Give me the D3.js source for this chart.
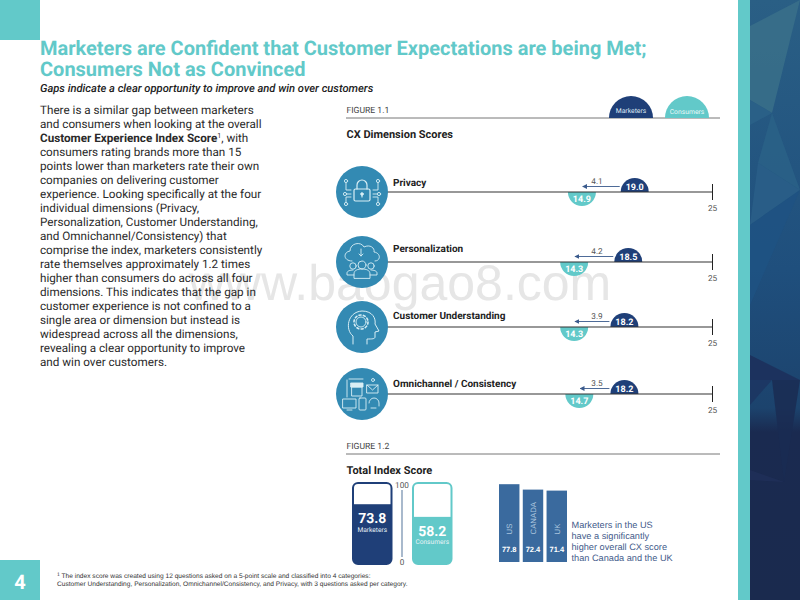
<!DOCTYPE html>
<html>
<head>
<meta charset="utf-8">
<script src="https://cdn.jsdelivr.net/npm/d3@7"></script>
<style>
  body { margin: 0; background: #fff; }
  svg { display: block; font-family: Roboto, sans-serif; text-rendering: geometricPrecision; }
  .arial { font-family: "Liberation Sans", sans-serif; }
</style>
</head>
<body>
<div id="chart"></div>
<script>
// figure 1.1
var dimensions = ['Privacy', 'Personalization', 'Customer Understanding', 'Omnichannel / Consistency'];
var marketers = [19.0, 18.5, 18.2, 18.2];
var consumers = [14.9, 14.3, 14.3, 14.7];
var gaps = [4.1, 4.2, 3.9, 3.5];
var rowY = [192, 262, 327, 394];
var rowLabelOffset = [-6, -10, -8, -7];

// figure 1.2
var totalNames = ['Marketers', 'Consumers'];
var totalScores = [73.8, 58.2];
var countries = ['US', 'CANADA', 'UK'];
var countryScores = [77.8, 72.4, 71.4];

var titleLines = ['Marketers are Confident that Customer Expectations are being Met;', 'Consumers Not as Convinced'];
var subtitle = 'Gaps indicate a clear opportunity to improve and win over customers';
var bodyLines = [
  'There is a similar gap between marketers',
  'and consumers when looking at the overall',
  '<b>Customer Experience Index Score</b>|, with',
  'consumers rating brands more than 15',
  'points lower than marketers rate their own',
  'companies on delivering customer',
  'experience. Looking specifically at the four',
  'individual dimensions (Privacy,',
  'Personalization, Customer Understanding,',
  'and Omnichannel/Consistency) that',
  'comprise the index, marketers consistently',
  'rate themselves approximately 1.2 times',
  'higher than consumers do across all four',
  'dimensions. This indicates that the gap in',
  'customer experience is not confined to a',
  'single area or dimension but instead is',
  'widespread across all the dimensions,',
  'revealing a clear opportunity to improve',
  'and win over customers.'
];
var noteLines = ['Marketers in the US', 'have a significantly', 'higher overall CX score', 'than Canada and the UK'];

var navy = '#1f3f78', teal = '#62c9c9', blue = '#338ab3', ink = '#222';

var svg = d3.select('#chart').append('svg').attr('width', 800).attr('height', 600);

// page furniture
svg.append('rect').attr('width', 40).attr('height', 40).attr('fill', teal);
svg.append('rect').attr('y', 560).attr('width', 40).attr('height', 40).attr('fill', teal);
svg.append('text').attr('x', 20).attr('y', 589).attr('text-anchor', 'middle')
  .attr('font-size', 20).attr('font-weight', 700).attr('fill', '#fff').text('4');

// side panel
var defs = svg.append('defs');
var grad = defs.append('linearGradient').attr('id', 'panel').attr('x1', 0).attr('x2', 0).attr('y1', 0).attr('y2', 1);
grad.append('stop').attr('offset', '0').attr('stop-color', '#2a5f85');
grad.append('stop').attr('offset', '0.45').attr('stop-color', '#1f4f7d');
grad.append('stop').attr('offset', '0.68').attr('stop-color', '#1c436d');
grad.append('stop').attr('offset', '0.72').attr('stop-color', '#1a2a50');
grad.append('stop').attr('offset', '1').attr('stop-color', '#1a2a4e');
svg.append('rect').attr('x', 738).attr('width', 12).attr('height', 600).attr('fill', teal);
svg.append('rect').attr('x', 750).attr('width', 50).attr('height', 600).attr('fill', 'url(#panel)');
var facets = [
  ['750,26 800,0 772,113 750,100', '#3a7089'],
  ['750,100 772,113 750,125', '#2b6288'],
  ['772,113 800,190 758,163', '#2a6187'],
  ['758,163 800,190 750,225', '#2a5f88'],
  ['800,190 750,305 750,225', '#1f5283'],
  ['750,355 800,380 750,380', '#1c2f5a'],
  ['750,380 772,380 750,405', '#1c3561'],
  ['772,380 800,380 784,482', '#1a2b52'],
  ['750,470 784,482 750,480', '#202f58']
];
svg.append('g').selectAll('polygon').data(facets).enter().append('polygon')
  .attr('points', function(d) { return d[0]; }).attr('fill', function(d) { return d[1]; }).attr('opacity', 0.85);

// watermark
svg.append('text').attr('x', 400).attr('y', 300).attr('text-anchor', 'middle')
  .attr('font-size', 50).attr('fill', '#e6e6e6').attr('class', 'arial').text('www.baogao8.com');

// title and body
svg.append('g').selectAll('text').data(titleLines).enter().append('text')
  .attr('x', 40).attr('y', function(d, i) { return 55 + i * 21; })
  .attr('font-size', 20).attr('font-weight', 700).attr('fill', teal).text(function(d) { return d; });
svg.append('text').attr('x', 40).attr('y', 92).attr('font-size', 11.2).attr('font-weight', 500)
  .attr('font-style', 'italic').attr('fill', ink).text(subtitle);

var body = svg.append('g').attr('font-size', 11.7).attr('fill', '#2a2a2a');
bodyLines.forEach(function(line, i) {
  var t = body.append('text').attr('x', 40).attr('y', 114 + i * 14);
  if (line.indexOf('<b>') === 0) {
    var parts = line.replace('<b>', '').split('</b>|');
    t.append('tspan').attr('font-weight', 700).text(parts[0]);
    t.append('tspan').attr('font-size', 7).attr('dy', -4).text('1');
    t.append('tspan').attr('dy', 4).text(parts[1]);
  } else {
    t.text(line);
  }
});

// footnote
var foot = svg.append('g').attr('class', 'arial').attr('font-size', 6.62).attr('fill', '#333');
var f1 = foot.append('text').attr('x', 57).attr('y', 578);
f1.append('tspan').attr('font-size', 5).attr('dy', -2).text('1');
f1.append('tspan').attr('dy', 2).text(' The index score was created using 12 questions asked on a 5-point scale and classified into 4 categories:');
foot.append('text').attr('x', 57).attr('y', 586).text('Customer Understanding, Personalization, Omnichannel/Consistency, and Privacy, with 3 questions asked per category.');

// figure headers
function figureHeader(label, y, title) {
  svg.append('line').attr('x1', 346).attr('x2', 720).attr('y1', y).attr('y2', y)
    .attr('stroke', '#777').attr('stroke-width', 1);
  svg.append('text').attr('x', 346.5).attr('y', y - 5).attr('font-size', 8.6).attr('fill', '#444').text(label);
  svg.append('text').attr('x', 346.5).attr('y', y + 20).attr('font-size', 11).attr('font-weight', 700).attr('fill', ink).text(title);
}
figureHeader('FIGURE 1.1', 118, 'CX Dimension Scores');
figureHeader('FIGURE 1.2', 454, 'Total Index Score');

// half circles
var halfUp = function(r) { return d3.arc()({ innerRadius: 0, outerRadius: r, startAngle: -Math.PI / 2, endAngle: Math.PI / 2 }); };
var halfDown = function(r) { return d3.arc()({ innerRadius: 0, outerRadius: r, startAngle: Math.PI / 2, endAngle: Math.PI * 1.5 }); };

// legend
var legendX = d3.scaleOrdinal().domain(totalNames).range([631, 687]);
var legendColor = d3.scaleOrdinal().domain(totalNames).range([navy, teal]);
totalNames.forEach(function(name) {
  svg.append('path').attr('transform', 'translate(' + legendX(name) + ',118)').attr('d', halfUp(22)).attr('fill', legendColor(name));
  svg.append('text').attr('x', legendX(name)).attr('y', name === 'Marketers' ? 113 : 114).attr('text-anchor', 'middle')
    .attr('font-size', 6.8).attr('fill', name === 'Marketers' ? '#dde6f2' : '#e8f8f8').text(name);
});

// figure 1.1 rows
var x = d3.scaleLinear().domain([0, 25]).range([390, 712]);

defs.append('marker').attr('id', 'head').attr('viewBox', '0 0 6 6').attr('refX', 5).attr('refY', 3)
  .attr('markerWidth', 5).attr('markerHeight', 5).attr('markerUnits', 'userSpaceOnUse').attr('orient', 'auto')
  .append('path').attr('d', 'M0,0L6,3L0,6Z').attr('fill', '#3a5a8c');

var rows = svg.selectAll('g.row').data(dimensions).enter().append('g').attr('class', 'row')
  .attr('transform', function(d, i) { return 'translate(0,' + rowY[i] + ')'; });

rows.append('path').attr('transform', function(d, i) { return 'translate(' + x(marketers[i]) + ',0)'; })
  .attr('d', halfUp(14)).attr('fill', navy);
rows.append('path').attr('transform', function(d, i) { return 'translate(' + x(consumers[i]) + ',0)'; })
  .attr('d', halfDown(14)).attr('fill', teal);
rows.append('line').attr('x1', 386).attr('x2', x(25)).attr('stroke', '#333').attr('stroke-width', 1.2);

rows.append('text').attr('x', function(d, i) { return x(marketers[i]); }).attr('y', -2).attr('text-anchor', 'middle')
  .attr('font-size', 9).attr('font-weight', 700).attr('fill', '#fff').text(function(d, i) { return marketers[i].toFixed(1); });
rows.append('text').attr('x', function(d, i) { return x(consumers[i]); }).attr('y', 10).attr('text-anchor', 'middle')
  .attr('font-size', 9).attr('font-weight', 700).attr('fill', '#fff').text(function(d, i) { return consumers[i].toFixed(1); });

rows.append('line').attr('y1', -5.5).attr('y2', -5.5)
  .attr('x1', function(d, i) { return x(marketers[i]) - 15; })
  .attr('x2', function(d, i) { return x(consumers[i]) + 1; })
  .attr('stroke', '#3a5a8c').attr('stroke-width', 0.9).attr('marker-end', 'url(#head)');
rows.append('text').attr('x', 597).attr('y', -8).attr('text-anchor', 'middle')
  .attr('font-size', 8.2).attr('fill', '#555').text(function(d, i) { return gaps[i].toFixed(1); });

rows.append('text').attr('x', 393).attr('y', function(d, i) { return rowLabelOffset[i]; })
  .attr('font-size', 10).attr('font-weight', 700).attr('fill', ink).text(function(d) { return d; });

rows.append('g').call(d3.axisBottom(x).tickValues([25]).tickSize(8))
  .call(function(g) {
    g.select('.domain').remove();
    g.selectAll('.tick line').attr('y1', -8).attr('y2', 8).attr('stroke', '#222');
    g.selectAll('.tick text').attr('y', 13).attr('font-family', 'Roboto').attr('font-size', 8.2).attr('fill', '#555');
  });

// icon circles
rows.append('circle').attr('cx', 362).attr('r', 26).attr('fill', blue);

var iconStroke = function(g) { return g.attr('fill', 'none').attr('stroke', '#d8eef5').attr('stroke-width', 0.9).attr('stroke-linecap', 'round').attr('stroke-linejoin', 'round'); };
var icons = rows.append('g').attr('transform', 'translate(362,0)').call(iconStroke);

// lock
var lock = d3.select(icons.nodes()[0]);
lock.append('rect').attr('x', -8).attr('y', -3).attr('width', 16).attr('height', 12).attr('rx', 1.5).attr('stroke-width', 1.2);
lock.append('path').attr('d', 'M-5,-3V-7a5,5 0 0 1 10,0V-3').attr('stroke-width', 1.2);
lock.append('circle').attr('cy', 2).attr('r', 1.3).attr('fill', '#d8eef5');
lock.append('path').attr('d', 'M0,2V5').attr('stroke-width', 1.2);
lock.append('path').attr('d', 'M-11,-2H-16V-9 M-11,2H-15 M-11,5H-16V10 M11,-2H16V-9 M11,2H15 M11,5H16V10');
[[-16, -11], [-17, 2], [-16, 12], [16, -11], [17, 2], [16, 12]].forEach(function(p) {
  lock.append('circle').attr('cx', p[0]).attr('cy', p[1]).attr('r', 1.6);
});

// cloud and people
var cloud = d3.select(icons.nodes()[1]);
cloud.append('path').attr('d', 'M-10,-1C-19,-1 -19,-10 -12,-11C-12,-19 -1,-21 2,-15C8,-18 13,-14 12,-10C19,-9 19,-1 13,-1');
cloud.append('path').attr('d', 'M-1,-13V-6 M-3,-8L-1,-6L1,-8');
cloud.append('circle').attr('cy', 3).attr('r', 4);
cloud.append('path').attr('d', 'M-8,16V12C-8,8 -4,7 0,7C4,7 8,8 8,12V16Z');
cloud.append('circle').attr('cx', -9).attr('cy', 4).attr('r', 3.2);
cloud.append('circle').attr('cx', 9).attr('cy', 4).attr('r', 3.2);
cloud.append('path').attr('d', 'M-8,13H-15V11C-15,9 -12,8 -9,8 M8,13H15V11C15,9 12,8 9,8');

// head with gear
var head = d3.select(icons.nodes()[2]);
head.append('path').attr('d', 'M-9,17V9C-17,3 -15,-15 0,-16C11,-16 14,-8 13,-3L17,4L13,5V10C13,12 10,12 5,12V17').attr('stroke-width', 1);
head.append('circle').attr('cx', -1).attr('cy', -5).attr('r', 5);
head.append('circle').attr('cx', -1).attr('cy', -5).attr('r', 7).attr('stroke-dasharray', '2 2.4').attr('stroke-width', 1.6);

// store and devices
var omni = d3.select(icons.nodes()[3]);
omni.append('path').attr('d', 'M-13,-15H1 M-15,-14V3');
omni.append('rect').attr('x', -11).attr('y', -11).attr('width', 12).attr('height', 4).attr('fill', '#d8eef5');
omni.append('rect').attr('x', -10).attr('y', -7).attr('width', 10).attr('height', 9);
omni.append('rect').attr('x', 5).attr('y', -9).attr('width', 11).attr('height', 8);
omni.append('path').attr('d', 'M5,-9L10.5,-4L16,-9');
omni.append('circle').attr('cx', 11).attr('cy', -14).attr('r', 1.5);
omni.append('rect').attr('x', -19).attr('y', 5).attr('width', 13).attr('height', 9);
omni.append('path').attr('d', 'M-15,16H-10');
omni.append('rect').attr('x', -3).attr('y', 4).attr('width', 7).attr('height', 12).attr('rx', 1);
omni.append('path').attr('d', 'M7,9A5,5 0 0 1 17,9V12 M9,14H14');

// figure 1.2 total score pills
var yTotal = d3.scaleLinear().domain([0, 100]).range([564, 483]);
var pillX = d3.scaleOrdinal().domain(totalNames).range([353, 413]);
var pillW = 38.5;

defs.selectAll('clipPath').data(totalNames).enter().append('clipPath').attr('id', function(d, i) { return 'pill' + i; })
  .append('rect').attr('x', function(d) { return pillX(d); }).attr('y', yTotal(100)).attr('width', pillW)
  .attr('height', yTotal(0) - yTotal(100)).attr('rx', 5);

var pills = svg.selectAll('g.pill').data(totalNames).enter().append('g').attr('class', 'pill');
pills.append('rect').attr('x', function(d) { return pillX(d); }).attr('y', function(d, i) { return yTotal(totalScores[i]); })
  .attr('width', pillW).attr('height', function(d, i) { return yTotal(0) - yTotal(totalScores[i]); })
  .attr('fill', function(d) { return legendColor(d); }).attr('clip-path', function(d, i) { return 'url(#pill' + i + ')'; });
pills.append('rect').attr('x', function(d) { return pillX(d); }).attr('y', yTotal(100)).attr('width', pillW)
  .attr('height', yTotal(0) - yTotal(100)).attr('rx', 5).attr('fill', 'none')
  .attr('stroke', function(d) { return legendColor(d); }).attr('stroke-width', 2);
pills.append('text').attr('x', function(d) { return pillX(d) + pillW / 2; })
  .attr('y', function(d, i) { return yTotal(totalScores[i]) + 19; }).attr('text-anchor', 'middle')
  .attr('font-size', 14).attr('font-weight', 700).attr('fill', '#fff').text(function(d, i) { return totalScores[i]; });
pills.append('text').attr('x', function(d) { return pillX(d) + pillW / 2; })
  .attr('y', function(d, i) { return yTotal(totalScores[i]) + 27.5; }).attr('text-anchor', 'middle')
  .attr('font-size', 6.6).attr('fill', '#e8f2f6').text(function(d) { return d; });

svg.append('line').attr('x1', 402).attr('x2', 402).attr('y1', 490).attr('y2', 557).attr('stroke', '#93a8c0').attr('stroke-width', 1.6);
svg.append('g').attr('transform', 'translate(402,0)')
  .call(d3.axisRight(d3.scaleLinear().domain([0, 100]).range([562, 485])).tickValues([0, 100]).tickSize(0).tickPadding(0))
  .call(function(g) {
    g.select('.domain').remove();
    g.selectAll('.tick text').attr('text-anchor', 'middle').attr('font-family', 'Roboto').attr('font-size', 8.2).attr('fill', '#555');
  });

// figure 1.2 country bars
var xCountry = d3.scaleBand().domain(countries).range([499, 567]).paddingInner(0.14);
var yCountry = d3.scaleLinear().domain([0, 100]).range([562, 462]);
var barColor = '#3a6a9e';
var bars = svg.selectAll('g.cbar').data(countries).enter().append('g').attr('class', 'cbar arial');
bars.append('rect').attr('x', function(d) { return xCountry(d); }).attr('y', function(d, i) { return yCountry(countryScores[i]); })
  .attr('width', xCountry.bandwidth()).attr('height', function(d, i) { return yCountry(0) - yCountry(countryScores[i]); })
  .attr('fill', barColor);
bars.append('text').attr('x', function(d) { return xCountry(d) + xCountry.bandwidth() / 2; }).attr('y', 551.5)
  .attr('text-anchor', 'middle').attr('font-size', 7.5).attr('font-weight', 700).attr('fill', '#fff')
  .text(function(d, i) { return countryScores[i]; });
bars.append('text').attr('transform', function(d) { return 'translate(' + (xCountry(d) + xCountry.bandwidth() / 2 + 3) + ',534.5) rotate(-90)'; })
  .attr('font-size', 7.8).attr('fill', '#a9c4dd').text(function(d) { return d; });

svg.append('g').attr('class', 'arial').selectAll('text').data(noteLines).enter().append('text')
  .attr('x', 571.5).attr('y', function(d, i) { return 528 + i * 11; })
  .attr('font-size', 9.2).attr('fill', '#3f5a8a').text(function(d) { return d; });
</script>
</body>
</html>
